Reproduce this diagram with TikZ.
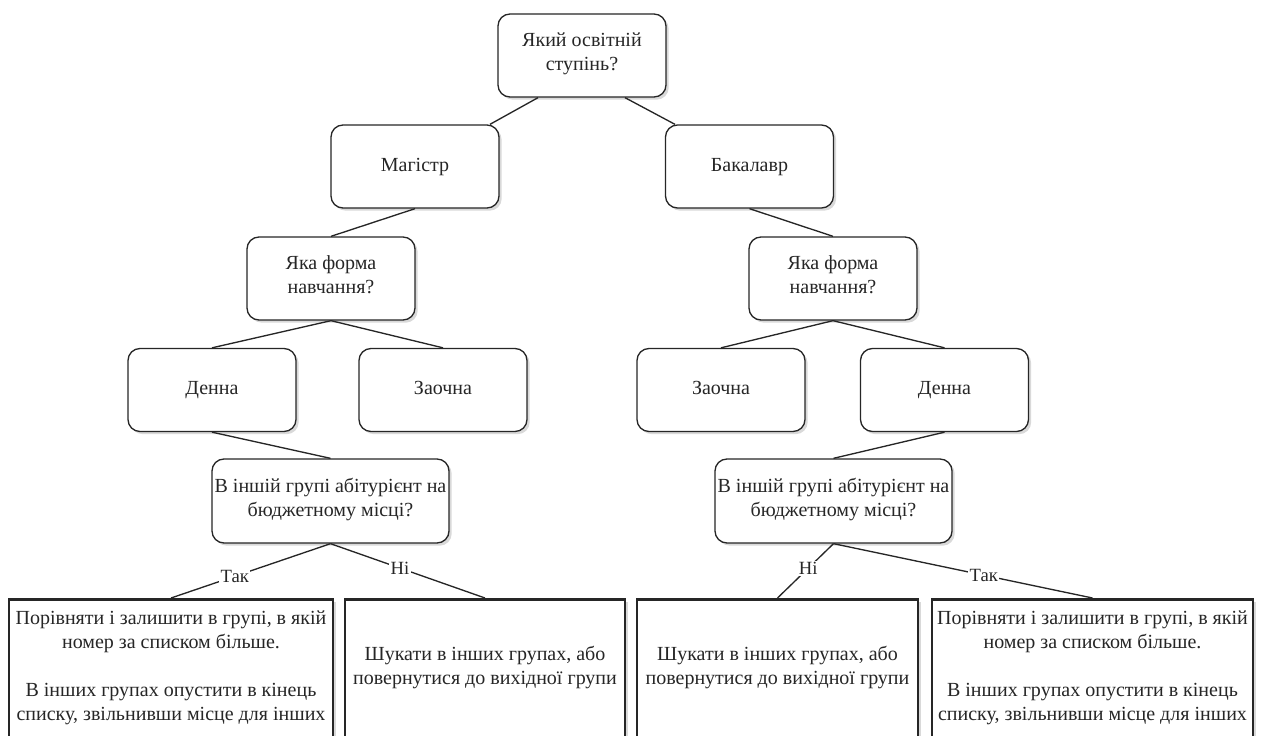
\documentclass[tikz,border=0pt]{standalone}
\usepackage{fontspec}
\setmainfont{Liberation Serif}
\usetikzlibrary{shadows}

\begin{document}
\begin{tikzpicture}[x=0.75pt,y=-0.75pt,
  every node/.style={text=black!85},
  strutted/.style={execute at begin node={\strut}},
  qbox/.style={draw=black!85, line width=1pt, rounded corners=9pt, fill=white,
    align=center, inner sep=2pt, font=\fontsize{15}{18}\selectfont, strutted,
    minimum width=126pt, minimum height=62.25pt,
    drop shadow={shadow xshift=2pt, shadow yshift=-2pt, opacity=0.25, fill=black!60}},
  widebox/.style={qbox, minimum width=177.75pt, minimum height=63pt},
  actbox/.style={draw=black!85, line width=2pt, fill=white, align=center, inner sep=2pt,
    font=\fontsize{15}{18}\selectfont, strutted, minimum height=105pt,
    drop shadow={shadow xshift=2pt, shadow yshift=-2pt, opacity=0.25, fill=black!60}},
  link/.style={draw=black!85, line width=1pt},
  lbl/.style={fill=white, inner sep=1pt, font=\fontsize{14}{16}\selectfont}
]
\useasboundingbox (0,0) rectangle (1262,735);
\clip (0,0) rectangle (1262,735);

% decision tree nodes
\node[qbox] (lvl) at (582,55.5) {Який освітній\\ступінь?};
\node[qbox] (mag) at (415,166.5) {Магістр};
\node[qbox] (bak) at (749.5,166.5) {Бакалавр};
\node[qbox] (formL) at (331,278.5) {Яка форма\\навчання?};
\node[qbox] (formR) at (833,278.5) {Яка форма\\навчання?};
\node[qbox] (dayL) at (212,390) {Денна};
\node[qbox] (extL) at (443,390) {Заочна};
\node[qbox] (extR) at (721,390) {Заочна};
\node[qbox] (dayR) at (944.5,390) {Денна};
\node[widebox] (budL) at (330.5,501) {В іншій групі абітурієнт на\\бюджетному місці?};
\node[widebox] (budR) at (833.5,501) {В іншій групі абітурієнт на\\бюджетному місці?};

% outcome boxes
\node[actbox, minimum width=243pt, anchor=north] (cmpL) at (171,598)
  {Порівняти і залишити в групі, в якій\\номер за списком більше.\\[18pt]В інших групах опустити в кінець\\списку, звільнивши місце для інших};
\node[actbox, minimum width=210pt, anchor=north] (srchL) at (485,598)
  {Шукати в інших групах, або\\повернутися до вихідної групи};
\node[actbox, minimum width=210.75pt, anchor=north] (srchR) at (777.5,598)
  {Шукати в інших групах, або\\повернутися до вихідної групи};
\node[actbox, minimum width=240.75pt, anchor=north] (cmpR) at (1092.5,598)
  {Порівняти і залишити в групі, в якій\\номер за списком більше.\\[18pt]В інших групах опустити в кінець\\списку, звільнивши місце для інших};

% connectors
\draw[link] ([xshift=-33pt]lvl.south) -- ([xshift=56.25pt]mag.north);
\draw[link] ([xshift=32.25pt]lvl.south) -- ([xshift=-55.9pt]bak.north);
\draw[link] (mag.south) -- (formL.north);
\draw[link] (bak.south) -- (formR.north);
\draw[link] (formL.south) -- (dayL.north);
\draw[link] (formL.south) -- (extL.north);
\draw[link] (formR.south) -- (extR.north);
\draw[link] (formR.south) -- (dayR.north);
\draw[link] (dayL.south) -- (budL.north);
\draw[link] (dayR.south) -- (budR.north);
\draw[link] (budL.south) -- node[lbl, pos=0.6] {Так} (cmpL.north);
\draw[link] (budL.south) -- node[lbl, pos=0.45] {Ні} (srchL.north);
\draw[link] (budR.south) -- node[lbl, pos=0.45] {Ні} (srchR.north);
\draw[link] (budR.south) -- node[lbl, pos=0.58] {Так} (cmpR.north);
\end{tikzpicture}
\end{document}
